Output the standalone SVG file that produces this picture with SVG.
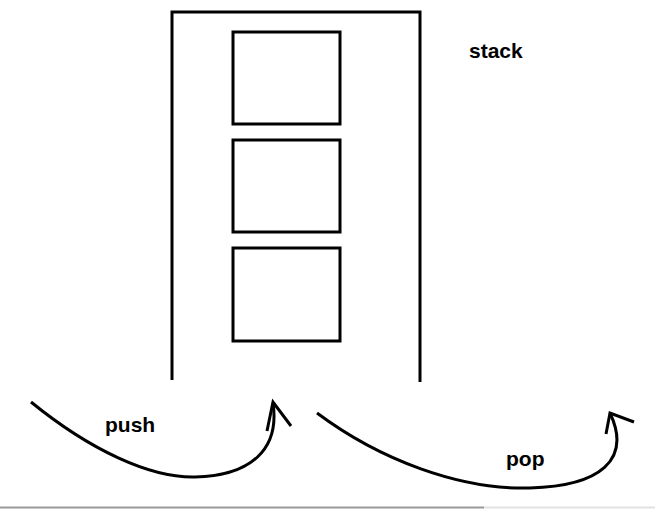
<svg xmlns="http://www.w3.org/2000/svg" width="655" height="509" viewBox="0 0 655 509">
<style>
.ln{fill:none;stroke:#000;stroke-width:3;stroke-linecap:butt}
.bx{fill:none;stroke:#000;stroke-width:3}
.lbl{font-family:"Liberation Sans",Arial,sans-serif;font-weight:bold;font-size:21px;fill:#000}
</style>
<rect width="655" height="509" fill="#fff"/>
<g id="stack">
<path class="ln" d="M172,380 V12 H420 V382"/>
</g>
<g id="item1"><rect class="bx" x="233" y="32" width="107" height="92"/></g>
<g id="item2"><rect class="bx" x="233" y="140" width="107" height="92"/></g>
<g id="item3"><rect class="bx" x="233" y="248" width="107" height="93"/></g>
<g id="label-stack"><text class="lbl" x="469" y="58">stack</text></g>
<g id="connectors">
<path class="ln" d="M31,402 C90,450 150,478 195,477 C250,476 280,450 273,403"/>
<path class="ln" d="M267,431 L273,402 L291,426"/>
<path class="ln" d="M317,413 C380,460 460,490 530,488 C600,486 632,460 610,413"/>
<path class="ln" d="M606,434 L610,413 L634,422"/>
</g>
<g id="label-push"><text class="lbl" x="105" y="432">push</text></g>
<g id="label-pop"><text class="lbl" x="506" y="466">pop</text></g>
<line x1="0" y1="507.5" x2="484" y2="507.5" stroke="#999" stroke-width="2"/>
<line x1="484" y1="507.5" x2="655" y2="507.5" stroke="#e2e2e2" stroke-width="2"/>
</svg>
